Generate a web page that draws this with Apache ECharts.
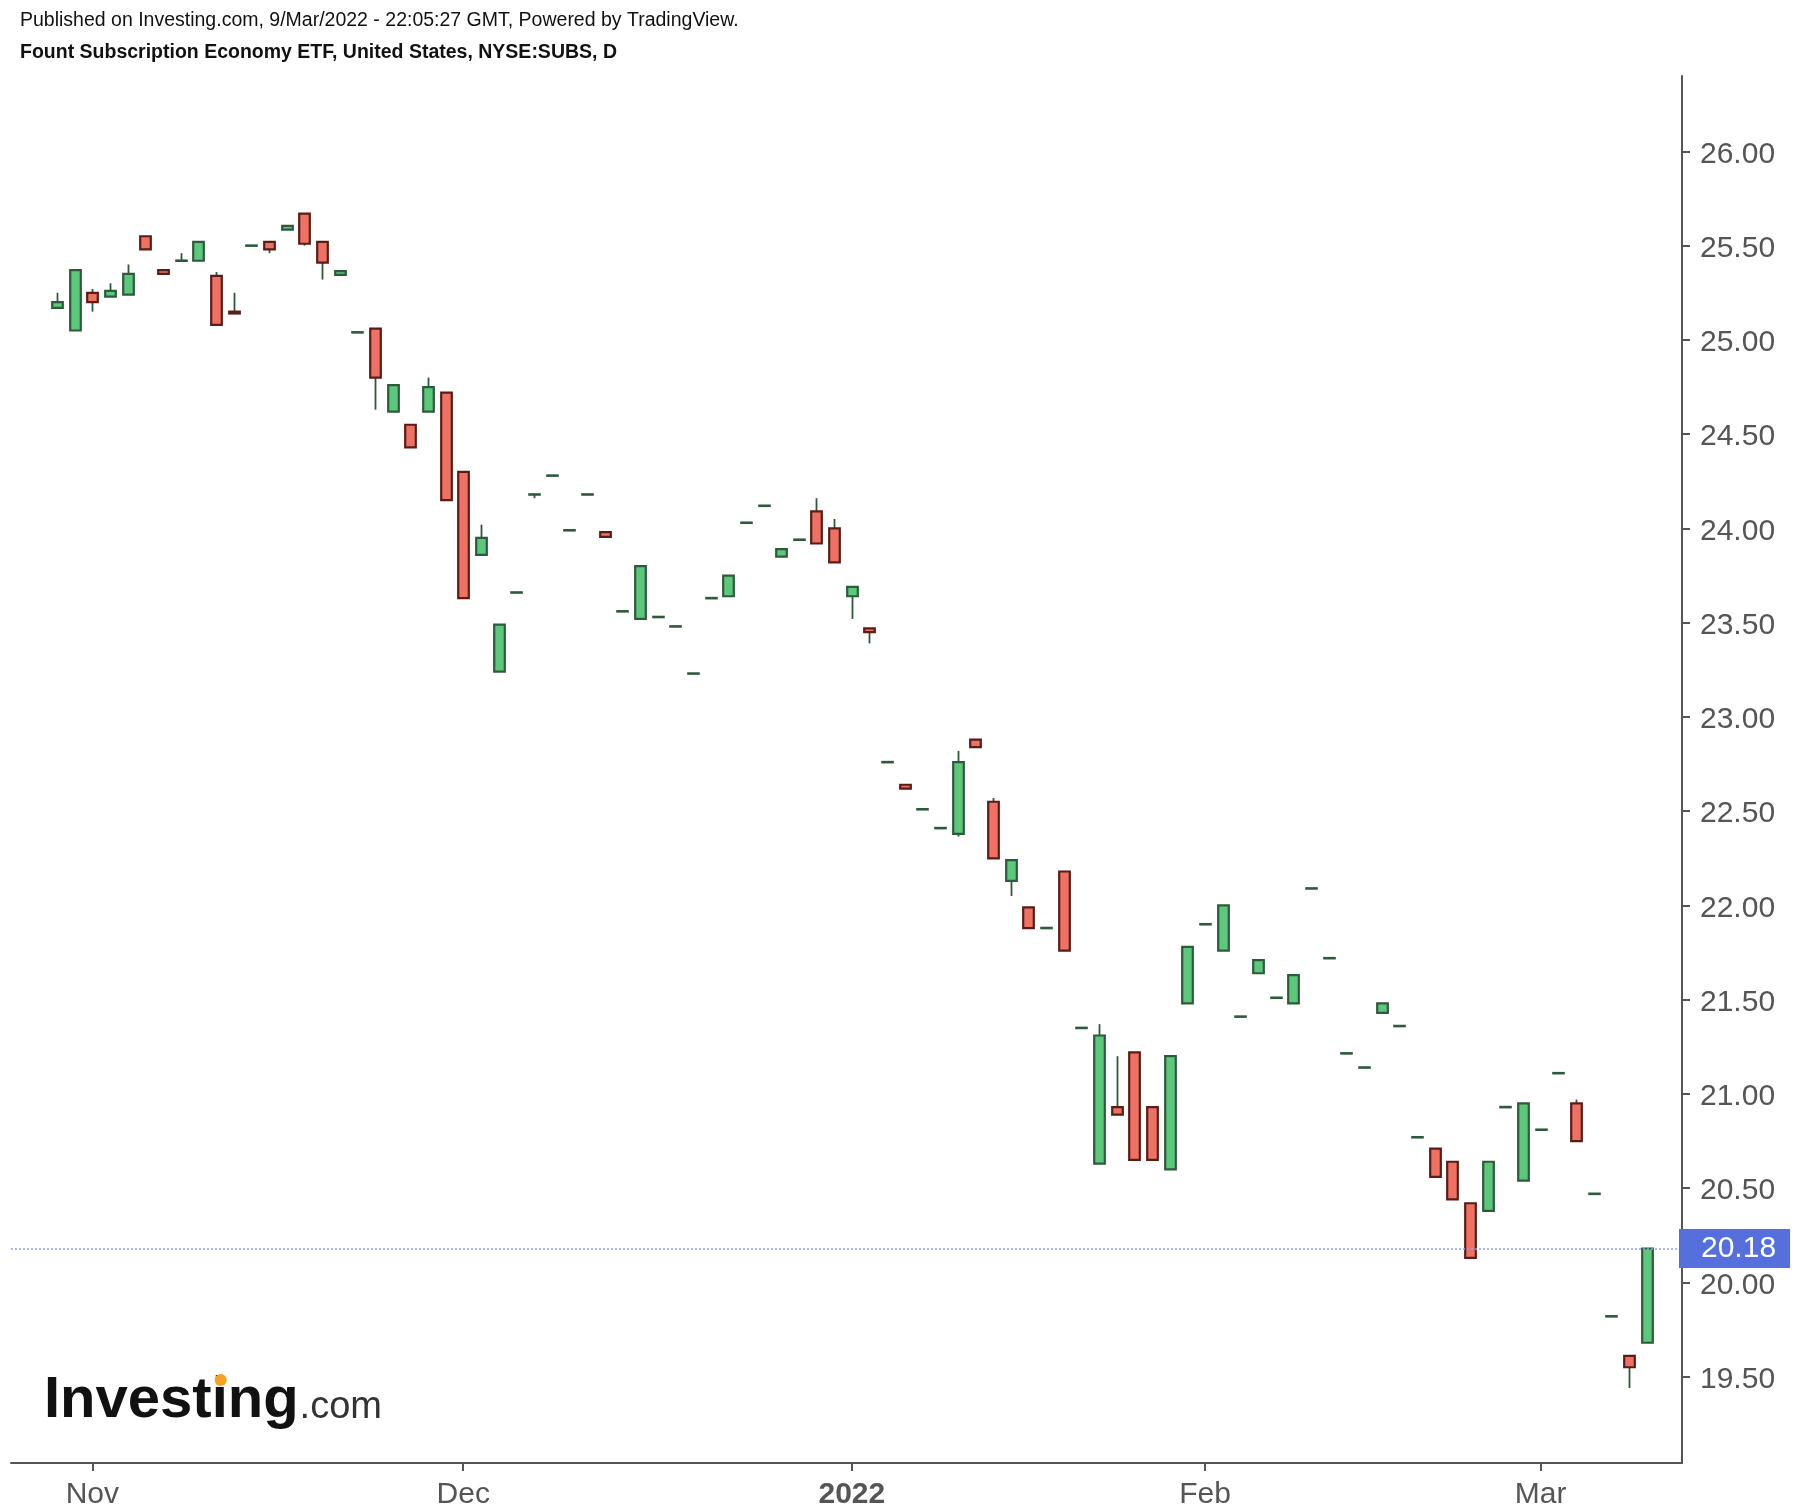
<!DOCTYPE html>
<html><head><meta charset="utf-8">
<script src="https://cdn.jsdelivr.net/npm/echarts@6/dist/echarts.min.js"></script>
<style>html,body{margin:0;padding:0;background:#fff}#c{width:1796px;height:1510px}</style>
</head><body><div id="c"></div>
<script>
// ---- data ----
const dates = [
 '2021-10-28','2021-10-29',
 '2021-11-01','2021-11-02','2021-11-03','2021-11-04','2021-11-05','2021-11-08','2021-11-09','2021-11-10','2021-11-11','2021-11-12',
 '2021-11-15','2021-11-16','2021-11-17','2021-11-18','2021-11-19','2021-11-22','2021-11-23','2021-11-24','2021-11-26','2021-11-29','2021-11-30',
 '2021-12-01','2021-12-02','2021-12-03','2021-12-06','2021-12-07','2021-12-08','2021-12-09','2021-12-10','2021-12-13','2021-12-14','2021-12-15',
 '2021-12-16','2021-12-17','2021-12-20','2021-12-21','2021-12-22','2021-12-23','2021-12-27','2021-12-28','2021-12-29','2021-12-30','2021-12-31',
 '2022-01-03','2022-01-04','2022-01-05','2022-01-06','2022-01-07','2022-01-10','2022-01-11','2022-01-12','2022-01-13','2022-01-14',
 '2022-01-18','2022-01-19','2022-01-20','2022-01-21','2022-01-24','2022-01-25','2022-01-26','2022-01-27','2022-01-28','2022-01-31',
 '2022-02-01','2022-02-02','2022-02-03','2022-02-04','2022-02-07','2022-02-08','2022-02-09','2022-02-10','2022-02-11',
 '2022-02-14','2022-02-15','2022-02-16','2022-02-17','2022-02-18','2022-02-22','2022-02-23','2022-02-24','2022-02-25','2022-02-28',
 '2022-03-01','2022-03-02','2022-03-03','2022-03-04','2022-03-07','2022-03-08','2022-03-09'
];
const openP = [25.17,25.05,25.25,25.23,25.24,25.55,25.37,25.42,25.42,25.34,25.15,25.50,25.52,25.585,25.67,25.52,25.345,25.04,25.06,24.62,24.55,24.62,24.72,
 24.30,23.86,23.24,23.66,24.18,24.28,23.99,24.18,23.98,23.56,23.52,23.53,23.48,23.23,23.63,23.64,24.03,24.12,23.85,23.94,24.09,24.00,
 23.64,23.47,22.76,22.64,22.51,22.41,22.38,22.88,22.55,22.13,21.99,21.88,22.18,21.35,20.63,20.93,21.22,20.93,20.60,21.48,
 21.90,21.76,21.41,21.64,21.51,21.48,22.09,21.72,21.215,21.14,21.43,21.36,20.77,20.71,20.64,20.42,20.38,20.93,20.54,
 20.81,21.11,20.95,20.47,19.82,19.61,19.68];
const closeP = [25.20,25.37,25.20,25.26,25.35,25.48,25.35,25.42,25.52,25.08,25.14,25.50,25.48,25.605,25.51,25.41,25.365,25.04,24.80,24.76,24.43,24.75,24.15,
 23.63,23.95,23.49,23.66,24.18,24.28,23.99,24.18,23.955,23.56,23.80,23.53,23.48,23.23,23.63,23.75,24.03,24.12,23.89,23.94,23.92,23.82,
 23.69,23.45,22.76,22.62,22.51,22.41,22.76,22.84,22.25,22.24,21.88,21.88,21.76,21.35,21.31,20.89,20.65,20.65,21.20,21.78,
 21.90,22.00,21.41,21.71,21.51,21.63,22.09,21.72,21.215,21.14,21.48,21.36,20.77,20.56,20.44,20.13,20.64,20.93,20.95,
 20.81,21.11,20.75,20.47,19.82,19.55,20.18];
const lowP = [25.17,25.05,25.15,25.23,25.24,25.48,25.35,25.42,25.42,25.08,25.14,25.50,25.46,25.585,25.50,25.32,25.345,25.04,24.63,24.62,24.43,24.62,24.15,
 23.63,23.86,23.24,23.66,24.16,24.28,23.99,24.18,23.955,23.56,23.52,23.53,23.48,23.23,23.63,23.64,24.03,24.12,23.85,23.94,23.92,23.82,
 23.52,23.39,22.76,22.62,22.51,22.41,22.365,22.84,22.25,22.05,21.88,21.88,21.76,21.35,20.63,20.89,20.65,20.65,20.60,21.48,
 21.90,21.76,21.41,21.64,21.51,21.48,22.09,21.72,21.215,21.14,21.43,21.36,20.77,20.56,20.44,20.13,20.38,20.93,20.54,
 20.81,21.11,20.75,20.47,19.82,19.44,19.68];
const highP = [25.25,25.37,25.27,25.30,25.40,25.55,25.37,25.46,25.52,25.36,25.25,25.50,25.52,25.605,25.67,25.52,25.365,25.04,25.06,24.76,24.55,24.80,24.72,
 24.30,24.02,23.49,23.66,24.18,24.28,23.99,24.18,23.98,23.56,23.80,23.53,23.48,23.23,23.63,23.75,24.03,24.12,23.89,23.94,24.16,24.05,
 23.69,23.47,22.76,22.64,22.51,22.41,22.82,22.88,22.57,22.24,21.99,21.88,22.18,21.35,21.37,21.20,21.22,20.93,21.20,21.78,
 21.90,22.00,21.41,21.71,21.51,21.63,22.09,21.72,21.215,21.14,21.48,21.36,20.77,20.71,20.64,20.42,20.64,20.93,20.95,
 20.81,21.11,20.97,20.47,19.82,19.61,20.18];
const monthLabels = ['Nov', 'Dec', '2022', 'Feb', 'Mar'];
const monthStarts = ['2021-11-01', '2021-12-01', '2022-01-03', '2022-02-01', '2022-03-01'];
const priceTicks = [19.5, 20, 20.5, 21, 21.5, 22, 22.5, 23, 23.5, 24, 24.5, 25, 25.5, 26];
const lastPrice = 20.18;
const headerLine1 = 'Published on Investing.com, 9/Mar/2022 - 22:05:27 GMT, Powered by TradingView.';
const headerLine2 = 'Fount Subscription Economy ETF, United States, NYSE:SUBS, D';

// ---- styles ----
const FONT = '"Liberation Sans", Arial, Helvetica, sans-serif';
const G_FILL = '#5cc87c', G_BORDER = '#2d5a3b';
const R_FILL = '#ef7163', R_BORDER = '#5a1c17';
const WICK = '#2d5a3b';
const AXIS = '#555555';

const candleData = dates.map((d, i) => [i, openP[i], closeP[i], lowP[i], highP[i]]);
const tickIdx = monthStarts.map(d => dates.indexOf(d));

function renderItem(params, api) {
  const k = api.value(0), o = api.value(1), c = api.value(2), l = api.value(3), h = api.value(4);
  const pO = api.coord([k, o]), pC = api.coord([k, c]);
  const pL = api.coord([k, l]), pH = api.coord([k, h]);
  const bw = api.size([1, 0])[0] * 0.6;
  const x = Math.round(pO[0]) + 0.5;
  const children = [];
  if (h > Math.max(o, c) || l < Math.min(o, c)) {
    children.push({type: 'line', shape: {x1: x, y1: pH[1], x2: x, y2: pL[1]},
      style: {stroke: WICK, lineWidth: 1.8}});
  }
  const top = Math.min(pO[1], pC[1]), bot = Math.max(pO[1], pC[1]);
  if (c !== o) {
    const up = c > o;
    children.push({type: 'rect', shape: {x: x - bw / 2, y: top, width: bw, height: bot - top},
      style: {fill: up ? G_FILL : R_FILL, stroke: up ? G_BORDER : R_BORDER, lineWidth: 2.2}});
  } else {
    children.push({type: 'line', shape: {x1: x - bw / 2 - 1, y1: top, x2: x + bw / 2 + 1, y2: top},
      style: {stroke: G_BORDER, lineWidth: 2.6}});
  }
  return {type: 'group', children};
}

// measure position of the "i" in the logo for its orange dot
const LOGO_SIZE = 58;
const mctx = document.createElement('canvas').getContext('2d');
mctx.font = 'bold ' + LOGO_SIZE + 'px "Liberation Sans", Arial, sans-serif';
const logoX = 44;
const dotX = logoX + mctx.measureText('Invest').width + mctx.measureText('i').width / 2;
const investW = mctx.measureText('Investing').width;

const chart = echarts.init(document.getElementById('c'), null, {renderer: 'canvas'});
chart.setOption({
  animation: false,
  backgroundColor: '#ffffff',
  grid: {left: 11, right: 114, top: 76, bottom: 47},
  xAxis: {
    type: 'value', min: -2.603, max: 92.0,
    axisLine: {show: true, onZero: false, lineStyle: {color: AXIS, width: 2}},
    axisTick: {show: true, customValues: tickIdx, length: 8, lineStyle: {color: AXIS, width: 2}},
    axisLabel: {
      customValues: tickIdx, margin: 17, color: AXIS, fontSize: 30, fontFamily: FONT,
      formatter: v => {
        const j = tickIdx.indexOf(Math.round(v));
        if (j < 0) return '';
        return monthLabels[j] === '2022' ? '{b|2022}' : monthLabels[j];
      },
      rich: {b: {fontWeight: 'bold', fontSize: 30, color: AXIS, fontFamily: FONT}}
    },
    splitLine: {show: false}
  },
  yAxis: {
    type: 'value', position: 'right', min: 19.042, max: 26.4,
    axisLine: {show: true, onZero: false, lineStyle: {color: AXIS, width: 2}},
    axisTick: {show: true, customValues: priceTicks, length: 8, lineStyle: {color: AXIS, width: 2}},
    axisLabel: {customValues: priceTicks, margin: 18, color: AXIS, fontSize: 30, fontFamily: FONT,
      formatter: v => '{p|' + Number(v).toFixed(2) + '}',
      rich: {p: {color: AXIS, fontSize: 30, fontFamily: FONT, padding: [6, 0, 0, 0]}}},
    splitLine: {show: false}
  },
  series: [{
    type: 'custom',
    renderItem: renderItem,
    data: candleData,
    encode: {x: 0, y: [1, 2, 3, 4]},
    clip: false,
    z: 3,
    markLine: {
      silent: true, symbol: 'none', animation: false,
      lineStyle: {type: [2, 2], color: '#8fa1ee', width: 1.5},
      label: {
        show: true, position: 'end', distance: -3,
        formatter: () => lastPrice.toFixed(2),
        color: '#ffffff', fontSize: 30, fontFamily: FONT,
        backgroundColor: '#5570dd', padding: [5, 14, 4, 22]
      },
      data: [{yAxis: lastPrice}]
    }
  }],
  graphic: [
    {type: 'text', x: 20, y: 20.5, style: {text: headerLine1, font: '19.5px ' + FONT, fill: '#111', align: 'left', verticalAlign: 'middle'}},
    {type: 'text', x: 20, y: 53, style: {text: headerLine2, font: 'bold 19.5px ' + FONT, fill: '#111', align: 'left', verticalAlign: 'middle'}},
    {type: 'text', x: logoX, y: 1401, style: {text: 'Investing', font: 'bold ' + LOGO_SIZE + 'px ' + FONT, fill: '#111', align: 'left', verticalAlign: 'middle'}},
    {type: 'text', x: logoX + investW + 1, y: 1408, style: {text: '.com', font: '38px ' + FONT, fill: '#333', align: 'left', verticalAlign: 'middle'}},
    {type: 'circle', shape: {cx: dotX + 1, cy: 1380, r: 6}, style: {fill: '#f4a21f'}}
  ]
});
</script>
</body></html>
